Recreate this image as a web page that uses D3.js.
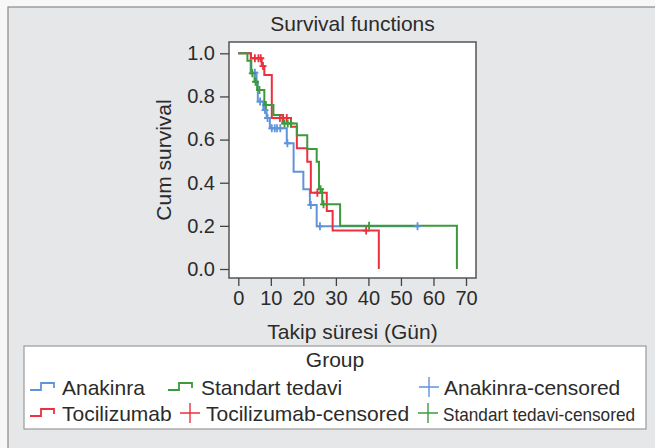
<!DOCTYPE html>
<html>
<head>
<meta charset="utf-8">
<script src="https://cdn.jsdelivr.net/npm/d3@7"></script>
<style>
  body { margin: 0; background: #f7f7f7; }
  svg { display: block; }
</style>
</head>
<body>
<div id="chart"></div>
<script>
// Kaplan-Meier steps: [time, cumulative survival after the event]
const anakinraSteps = [[0, 1], [3.8, 0.91], [5.6, 0.865], [6.0, 0.776], [7.7, 0.737], [8.7, 0.70], [9.7, 0.652],
  [14.9, 0.583], [17.0, 0.451], [20.0, 0.37], [22.0, 0.297], [24.1, 0.198]];
const anakinraCensored = [5.1, 6.7, 8.2, 9.0, 10.3, 11.2, 11.9, 12.9, 15.1, 22.3, 25.1, 55.1];

const tocilizumabSteps = [[0, 1], [3.9, 0.977], [7.2, 0.941], [8.0, 0.899], [10.3, 0.70], [16.2, 0.66], [18.0, 0.56],
  [21.2, 0.497], [22.3, 0.354], [27.2, 0.269], [29.0, 0.178], [43.2, 0]];
const tocilizumabCensored = [5.1, 6.2, 6.9, 7.6, 12.8, 13.8, 14.9, 24.3, 39.3];

const standartSteps = [[0, 1], [2.8, 0.965], [4.0, 0.907], [5.0, 0.868], [5.8, 0.83], [8.0, 0.76], [10.8, 0.714],
  [13.6, 0.675], [18.0, 0.62], [21.2, 0.556], [24.1, 0.497], [24.8, 0.37], [25.8, 0.30], [31.3, 0.20], [67.2, 0]];
const standartCensored = [4.3, 5.3, 6.5, 8.5, 14.2, 15.2, 16.2, 25.3, 26.2, 40.2];

const xTicks = [0, 10, 20, 30, 40, 50, 60, 70];
const yTicks = [0, 0.2, 0.4, 0.6, 0.8, 1.0];

const groups = [
  { name: "Anakinra", steps: anakinraSteps, censored: anakinraCensored, color: "#5f94db" },
  { name: "Tocilizumab", steps: tocilizumabSteps, censored: tocilizumabCensored, color: "#ee2f3d" },
  { name: "Standart tedavi", steps: standartSteps, censored: standartCensored, color: "#3c9a3c" }
];

const width = 655, height = 448;
const font = "'Liberation Sans', Arial, sans-serif";
const ink = "#2b2b2b";

const svg = d3.select("#chart").append("svg")
  .attr("width", width)
  .attr("height", height);

// outer grey panel
svg.append("rect")
  .attr("x", 8).attr("y", 7)
  .attr("width", 700).attr("height", 500)
  .attr("fill", "#e6e7e9")
  .attr("stroke", "#8a8a8a")
  .attr("stroke-width", 1.2);

const box = { left: 229, right: 476, top: 42, bottom: 278 };

const x = d3.scaleLinear().domain([0, 70]).range([238.3, 466]);
const y = d3.scaleLinear().domain([0, 1]).range([269, 53.3]);

svg.append("rect")
  .attr("x", box.left).attr("y", box.top)
  .attr("width", box.right - box.left).attr("height", box.bottom - box.top)
  .attr("fill", "white")
  .attr("stroke", "#555")
  .attr("stroke-width", 1.5);

// title
svg.append("text")
  .attr("x", (box.left + box.right) / 2)
  .attr("y", 31)
  .attr("text-anchor", "middle")
  .style("font-family", font)
  .style("font-size", "21px")
  .attr("fill", ink)
  .text("Survival functions");

// y axis
svg.append("g")
  .attr("transform", `translate(${box.left},0)`)
  .call(d3.axisLeft(y).tickValues(yTicks).tickSize(9).tickPadding(5).tickFormat(d3.format(".1f")))
  .call(g => g.select(".domain").remove())
  .call(g => g.selectAll(".tick line").attr("stroke", "#444").attr("stroke-width", 1.3))
  .call(g => g.selectAll("text").attr("fill", ink).style("font-size", "20px").style("font-family", font));

// x axis
svg.append("g")
  .attr("transform", `translate(0,${box.bottom})`)
  .call(d3.axisBottom(x).tickValues(xTicks).tickSize(8).tickPadding(5))
  .call(g => g.select(".domain").remove())
  .call(g => g.selectAll(".tick line").attr("stroke", "#444").attr("stroke-width", 1.3))
  .call(g => g.selectAll("text").attr("fill", ink).style("font-size", "20px").style("font-family", font));

svg.append("text")
  .attr("x", (box.left + box.right) / 2)
  .attr("y", 339)
  .attr("text-anchor", "middle")
  .style("font-family", font)
  .style("font-size", "21px")
  .attr("fill", ink)
  .text("Takip süresi (Gün)");

svg.append("text")
  .attr("transform", "rotate(-90)")
  .attr("x", -(box.top + box.bottom) / 2)
  .attr("y", 171)
  .attr("text-anchor", "middle")
  .style("font-family", font)
  .style("font-size", "21px")
  .attr("fill", ink)
  .text("Cum survival");

// survival at time t from step data
const survAt = (steps, t) => {
  let s = steps[0][1];
  steps.forEach(d => { if (d[0] <= t) s = d[1]; });
  return s;
};

const stepLine = d3.line()
  .x(d => x(d[0]))
  .y(d => y(d[1]))
  .curve(d3.curveStepAfter);

const plot = svg.append("g");

groups.forEach(g => {
  const last = g.steps[g.steps.length - 1];
  const end = d3.max(g.censored);
  const pts = end > last[0] ? g.steps.concat([[end, last[1]]]) : g.steps;
  plot.append("path")
    .datum(pts)
    .attr("fill", "none")
    .attr("stroke", g.color)
    .attr("stroke-width", 2)
    .attr("d", stepLine);
});

groups.forEach(g => {
  plot.append("g")
    .selectAll("path")
    .data(g.censored)
    .join("path")
    .attr("d", t => {
      const cx = x(t), cy = y(survAt(g.steps, t));
      return `M${cx - 3.5},${cy}H${cx + 3.5}M${cx},${cy - 4}V${cy + 4}`;
    })
    .attr("stroke", g.color)
    .attr("stroke-width", 1.8);
});

// legend
const legend = svg.append("g");
legend.append("rect")
  .attr("x", 24).attr("y", 346)
  .attr("width", 622).attr("height", 83)
  .attr("fill", "white")
  .attr("stroke", "#9a9a9a")
  .attr("stroke-width", 1.2);

legend.append("text")
  .attr("x", 335).attr("y", 367)
  .attr("text-anchor", "middle")
  .style("font-family", font)
  .style("font-size", "21px")
  .attr("fill", ink)
  .text("Group");

const legendItems = [
  { label: "Anakinra", color: "#5f94db", kind: "step", ix: 30, tx: 62, row: 0 },
  { label: "Standart tedavi", color: "#3c9a3c", kind: "step", ix: 168, tx: 201, row: 0 },
  { label: "Anakinra-censored", color: "#5f94db", kind: "plus", ix: 419, tx: 444, row: 0 },
  { label: "Tocilizumab", color: "#ee2f3d", kind: "step", ix: 30, tx: 62, row: 1 },
  { label: "Tocilizumab-censored", color: "#ee2f3d", kind: "plus", ix: 180, tx: 206, row: 1 },
  { label: "Standart tedavi-censored", color: "#3c9a3c", kind: "plus", ix: 418, tx: 443, row: 1, len: 192, size: 19 }
];

legendItems.forEach(d => {
  const base = d.row === 0 ? 395 : 421;
  const mid = base - 8;
  if (d.kind === "step") {
    legend.append("path")
      .attr("d", `M${d.ix},${mid + 3}H${d.ix + 11}V${mid - 4}H${d.ix + 24}V${mid + 1}`)
      .attr("fill", "none")
      .attr("stroke", d.color)
      .attr("stroke-width", 1.8);
  } else {
    legend.append("path")
      .attr("d", `M${d.ix},${mid}H${d.ix + 20}M${d.ix + 10},${mid - 10}V${mid + 10}`)
      .attr("stroke", d.color)
      .attr("stroke-width", 1.4);
  }
  const t = legend.append("text")
    .attr("x", d.tx).attr("y", base)
    .style("font-family", font)
    .style("font-size", (d.size || 21) + "px")
    .attr("fill", ink)
    .text(d.label);
  if (d.len) t.attr("textLength", d.len).attr("lengthAdjust", "spacingAndGlyphs");
});
</script>
</body>
</html>
